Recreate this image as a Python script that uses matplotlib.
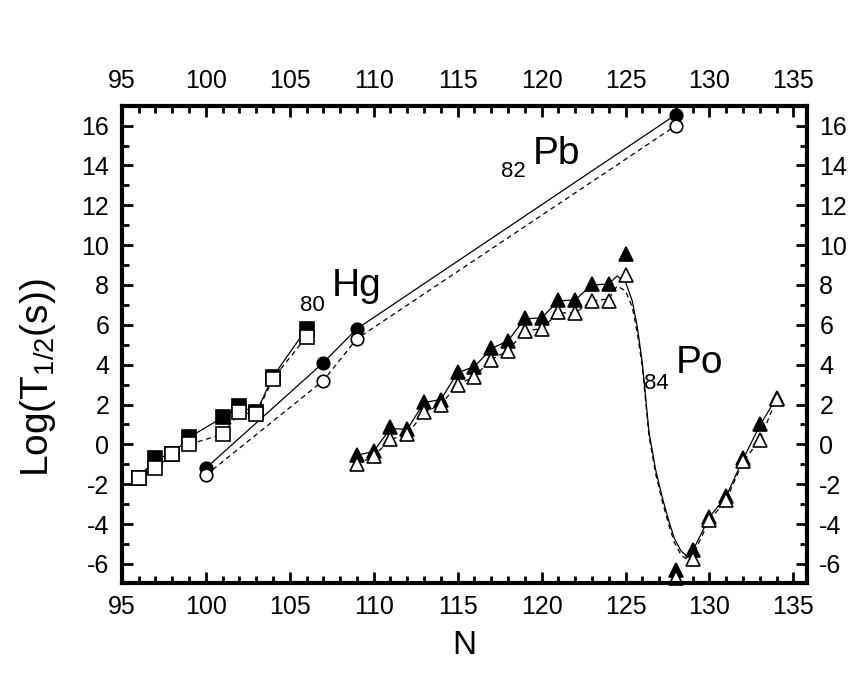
import matplotlib
matplotlib.use("Agg")
import matplotlib.pyplot as plt
from matplotlib.ticker import MultipleLocator

plt.rcParams["font.family"] = ["Liberation Sans", "DejaVu Sans"]
plt.rcParams["mathtext.default"] = "regular"
plt.rcParams["axes.unicode_minus"] = False

# 80Hg (squares): filled = solid line, open = dashed line
hg_n = [96, 97, 98, 99, 101, 102, 103, 104, 106]
hg_filled = [-1.7, -0.7, -0.5, 0.35, 1.35, 1.9, 1.6, 3.4, 5.8]
hg_open = [-1.7, -1.2, -0.5, 0.0, 0.5, 1.6, 1.5, 3.3, 5.4]

# 82Pb (circles)
pb_n = [100, 107, 109, 128]
pb_filled = [-1.2, 4.1, 5.8, 16.55]
pb_open = [-1.55, 3.2, 5.3, 16.0]

# 84Po (triangles)
po_n = [109, 110, 111, 112, 113, 114, 115, 116, 117, 118, 119, 120,
        121, 122, 123, 124, 125, 128, 129, 130, 131, 132, 133, 134]
po_filled = [-0.55, -0.35, 0.85, 0.75, 2.15, 2.25, 3.65, 3.9, 4.85, 5.2,
             6.35, 6.35, 7.25, 7.25, 8.05, 8.05, 9.55, -6.3, -5.3, -3.65,
             -2.6, -0.7, 1.0, 2.35]
po_open = [-1.0, -0.6, 0.25, 0.5, 1.6, 2.0, 3.0, 3.4, 4.25, 4.7,
           5.7, 5.8, 6.65, 6.6, 7.2, 7.2, 8.5, -6.7, -5.75, -3.8,
           -2.8, -0.85, 0.2, 2.3]

# calculated Po curves
po_line_n = [109, 110, 111, 112, 113, 114, 115, 116, 117, 118, 119, 120,
             121, 122, 123, 124, 124.5, 125, 125.4, 125.7, 126.0, 126.4,
             126.8, 127.2, 127.6, 127.9, 128.3, 128.7, 129, 130, 131, 132,
             133, 134]
po_line_solid = [-0.55, -0.35, 0.8, 0.75, 2.1, 2.25, 3.6, 3.9, 4.8, 5.2,
                 6.3, 6.35, 7.2, 7.25, 8.0, 8.05, 8.45, 8.15, 7.2, 5.9,
                 4.1, 0.6, -1.3, -2.7, -3.9, -4.7, -5.35, -5.65, -5.35,
                 -3.65, -2.6, -0.75, 0.95, 2.35]
po_line_dashed = [-1.0, -0.6, 0.25, 0.5, 1.6, 2.0, 3.0, 3.4, 4.25, 4.7,
                  5.7, 5.8, 6.6, 6.6, 7.2, 7.3, 7.95, 7.7, 6.9, 5.6,
                  3.9, 0.4, -1.5, -2.9, -4.1, -4.9, -5.55, -5.8, -5.6,
                  -3.8, -2.8, -0.85, 0.2, 2.3]

fig = plt.figure(figsize=(8.52, 6.73), dpi=100)
ax = fig.add_axes([0.143, 0.134, 0.804, 0.709])

line_kw = dict(color="black", linewidth=0.9)
dash_kw = dict(color="black", linewidth=0.9, dashes=(4, 3))

ax.plot(hg_n, hg_filled, **line_kw)
ax.plot(hg_n, hg_open, **dash_kw)
ax.plot(pb_n, pb_filled, **line_kw)
ax.plot(pb_n, pb_open, **dash_kw)
ax.plot(po_line_n, po_line_solid, **line_kw)
ax.plot(po_line_n, po_line_dashed, **dash_kw)

mk = dict(linestyle="none", markeredgecolor="black", markeredgewidth=1.2,
          clip_on=False, zorder=3)
ax.plot(hg_n, hg_filled, marker="s", markersize=9.5, markerfacecolor="black", **mk)
ax.plot(hg_n, hg_open, marker="s", markersize=9.5, markerfacecolor="white", **mk)
ax.plot(pb_n, pb_filled, marker="o", markersize=9, markerfacecolor="black", **mk)
ax.plot(pb_n, pb_open, marker="o", markersize=9, markerfacecolor="white", **mk)
ax.plot(po_n, po_filled, marker="^", markersize=10.5, markerfacecolor="black", **mk)
ax.plot(po_n, po_open, marker="^", markersize=10.5, markerfacecolor="white", **mk)

ax.set_xlim(95, 135.8)
ax.set_ylim(-6.95, 17)
ax.xaxis.set_major_locator(MultipleLocator(5))
ax.xaxis.set_minor_locator(MultipleLocator(1))
ax.yaxis.set_major_locator(MultipleLocator(2))
ax.yaxis.set_minor_locator(MultipleLocator(1))
ax.tick_params(which="both", direction="in", top=True, right=True,
               labeltop=True, labelright=True, width=2.0, labelsize=18)
ax.tick_params(axis="x", which="both", pad=9)
ax.tick_params(axis="y", which="both", pad=9)
ax.tick_params(which="major", length=8)
ax.tick_params(which="minor", length=5)
for sp in ax.spines.values():
    sp.set_linewidth(3.0)
    sp.set_zorder(4)

ax.set_xlabel("N", fontsize=24, labelpad=8)
ax.set_ylabel("Log(T$_{1/2}$(s))", fontsize=28)
ax.yaxis.set_label_coords(-0.093, 0.43)

ax.text(105.6, 6.68, "80", fontsize=16)
ax.text(107.5, 7.43, "Hg", fontsize=28)
ax.text(117.6, 13.4, "82", fontsize=16)
ax.text(119.5, 14.05, "Pb", fontsize=28)
ax.text(126.1, 2.77, "84", fontsize=16)
ax.text(128.0, 3.6, "Po", fontsize=28)

fig.savefig("out.png", dpi=100)
